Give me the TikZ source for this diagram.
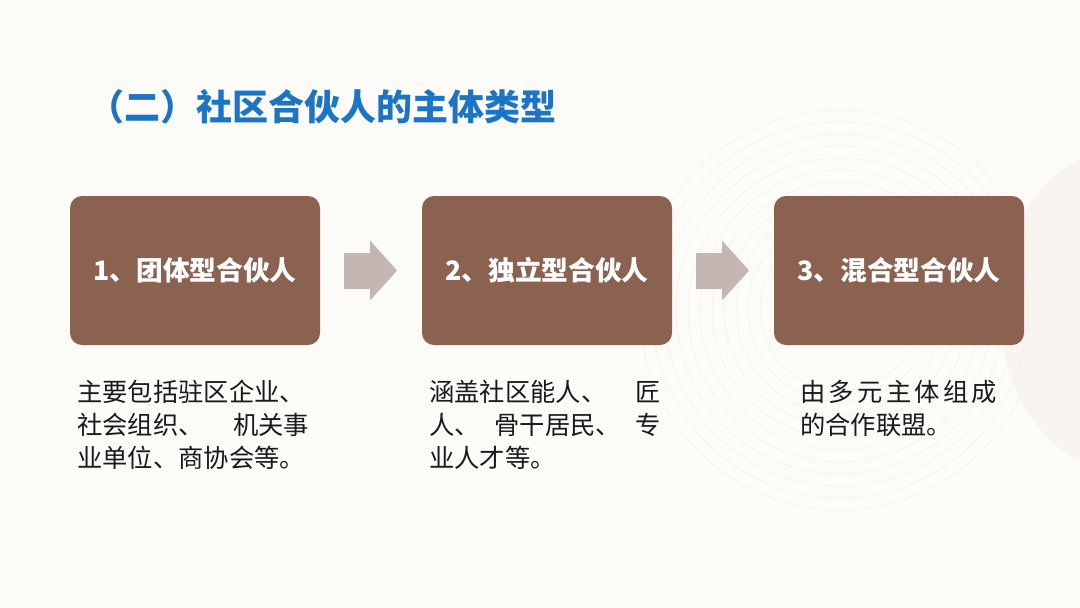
\documentclass[tikz,border=0pt]{standalone}
\usepackage{fontspec}
\setmainfont{Noto Sans CJK SC}
\newfontfamily\widecjk[LetterSpace=13]{Noto Sans CJK SC}
\definecolor{titleblue}{HTML}{1B75C4}
\definecolor{cocoa}{HTML}{8B6250}
\definecolor{greyrose}{HTML}{C4B7B2}
\definecolor{paper}{HTML}{FCFBF8}
\definecolor{ringline}{HTML}{F4F1EC}
\definecolor{sandblob}{HTML}{F8F4EF}
\definecolor{inkblack}{HTML}{1A1A1A}
\usetikzlibrary{positioning,calc,arrows.meta}

\begin{document}
\begin{tikzpicture}[
    node distance=2.55cm,
    kind/.style={rectangle, rounded corners=0.3cm, fill=cocoa, text=white, inner sep=0pt, outer sep=0pt,
                minimum width=6.25cm, minimum height=3.725cm, align=center,
                font=\fontsize{19pt}{23pt}\selectfont\bfseries},
    note/.style={anchor=north west, inner sep=0pt, text width=5.8cm, align=left, text=inkblack,
                font=\fontsize{18pt}{23.5pt}\selectfont},
    flow/.style={greyrose, line width=0.9cm,
                -{Triangle[length=0.675cm, width=1.5cm, line width=0pt]}}
]
    % page and faint background rings
    \fill[paper] (0,0) rectangle (27,-15.175);
    \useasboundingbox (0,0) rectangle (27,-15.175);
    \fill[sandblob] (28,-7.75) ellipse (3cm and 4cm);
    \foreach \r in {2.0,2.3,...,5.1}
        \draw[ringline, line width=0.4pt] (21,-7.75) circle (\r);

    \node[anchor=base east, inner sep=0pt, text=titleblue,
          font=\fontsize{25.6pt}{30pt}\selectfont\bfseries] (title) at (13.925,-3.02) {（二）社区合伙人的主体类型};

    \node[kind] (group) at (4.875,-6.7625) {1、团体型合伙人};
    \node[kind, right=of group] (solo) {2、独立型合伙人};
    \node[kind, right=of solo] (mixed) {3、混合型合伙人};

    \draw[flow] ([xshift=0.6cm]group.east) -- ([xshift=-0.625cm]solo.west);
    \draw[flow] ([xshift=0.6cm]solo.east) -- ([xshift=-0.625cm]mixed.west);

    \node[note] (groupnote) at ($(group.south west)+(0.175,-0.875)$)
        {主要包括驻区企业、\\社会组织、\hfill 机关事\\业单位、商协会等。};
    \node[note] (solonote) at ($(solo.south west)+(0.175,-0.875)$)
        {涵盖社区能人、\hfill 匠\\人、\hfill 骨干居民、\hfill 专\\业人才等。};
    \node[note] (mixednote) at ($(mixed.south west)+(0.65,-0.875)$)
        {{\widecjk 由多元主体组成}\\的合作联盟。};
\end{tikzpicture}
\end{document}
